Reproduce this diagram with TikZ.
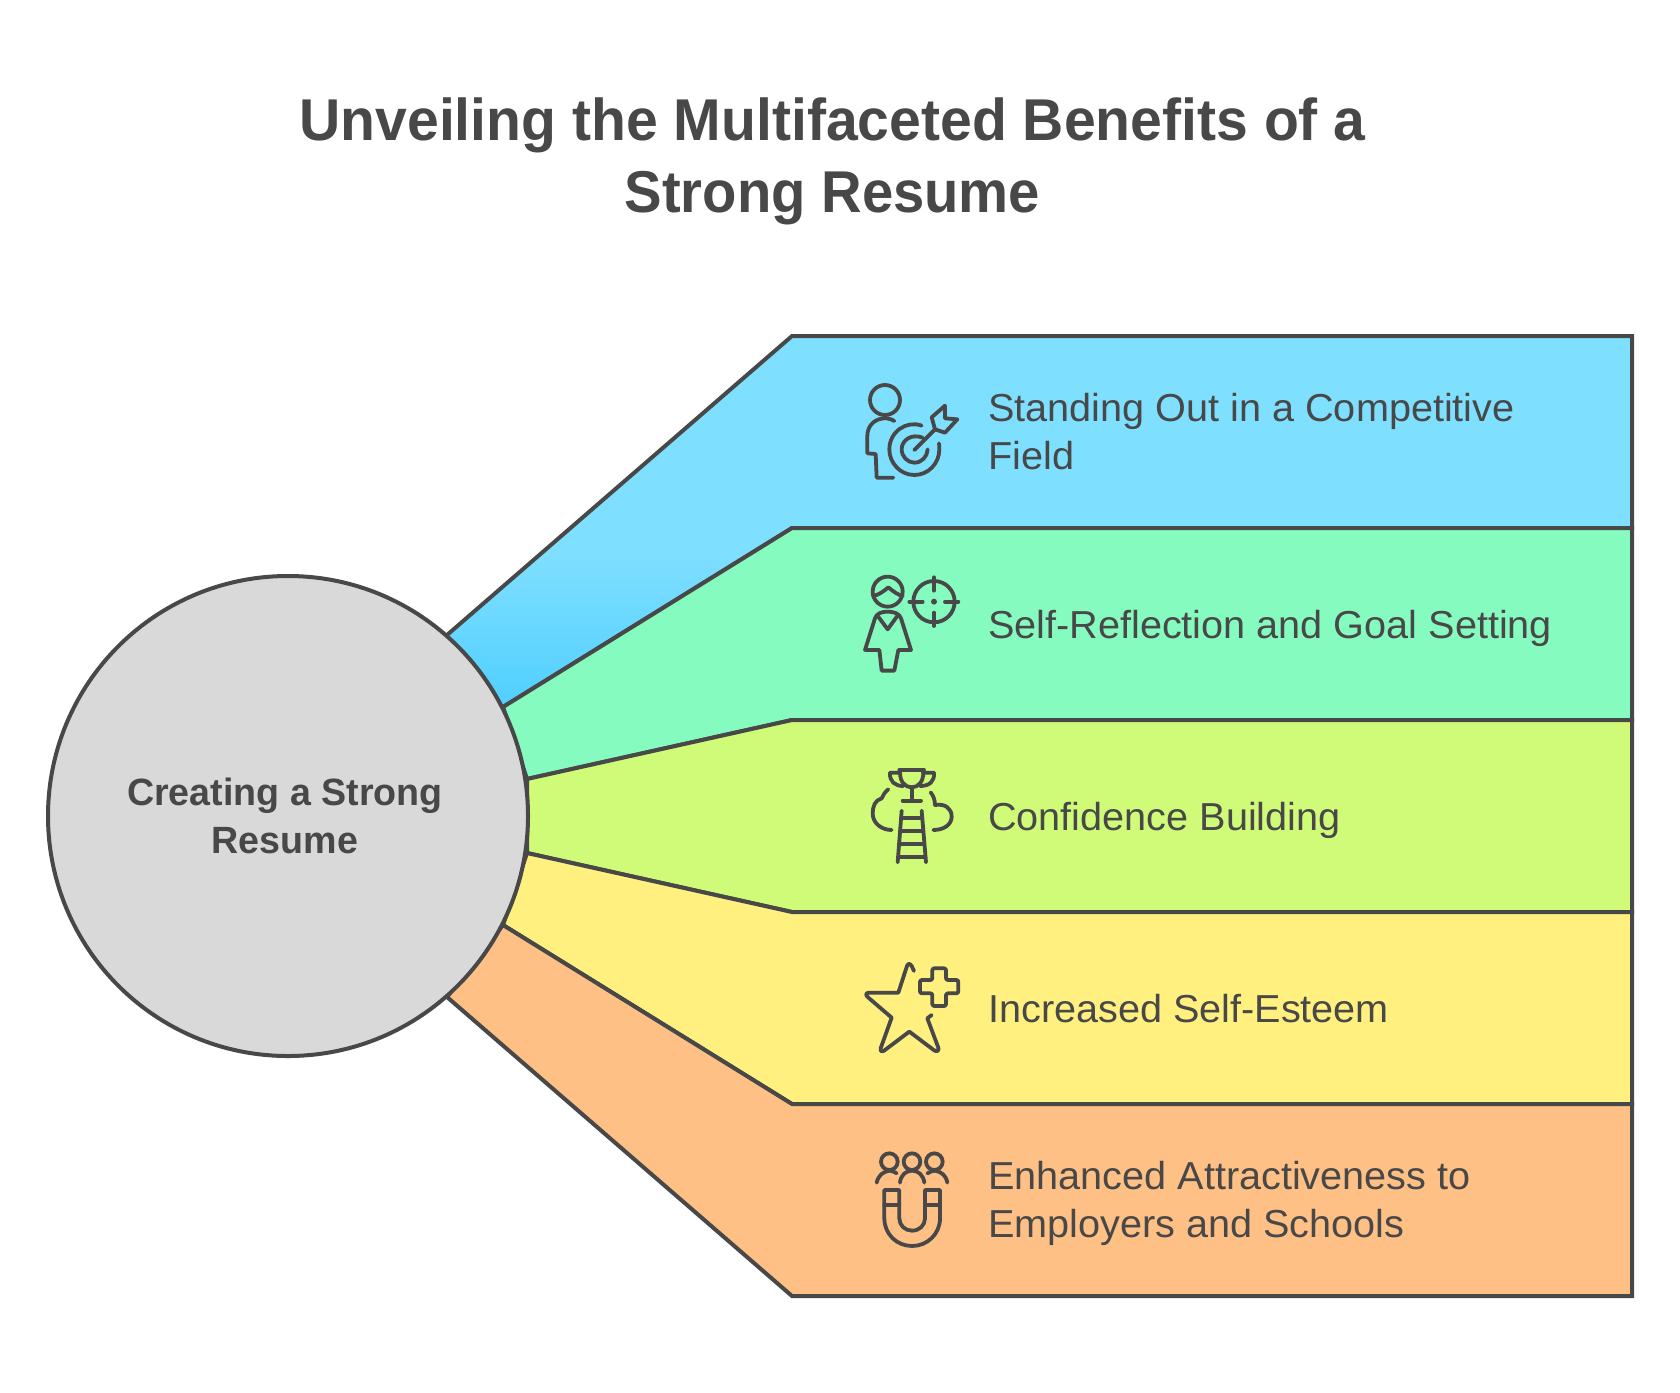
\documentclass[tikz,border=0pt]{standalone}
\usepackage{fontspec}
\setmainfont{Liberation Sans}
\newfontfamily\labfont[FakeStretch=1.016]{Liberation Sans}
\newfontfamily\hubfont[FakeStretch=0.99]{Liberation Sans}
\newfontfamily\titlefontA[FakeStretch=0.968]{Liberation Sans}
\newfontfamily\titlefontB[FakeStretch=0.953]{Liberation Sans}
\newcommand{\ls}{\rule[-10pt]{0pt}{38pt}}
\newcommand{\ts}{\rule[-15pt]{0pt}{57pt}}
\definecolor{ink}{HTML}{484848}
\definecolor{cblue}{HTML}{7FDFFF}
\definecolor{cbluedk}{HTML}{50CFFF}
\definecolor{cgreen}{HTML}{85FBC0}
\definecolor{clime}{HTML}{D0FB78}
\definecolor{cyellow}{HTML}{FFF080}
\definecolor{corange}{HTML}{FFC085}
\definecolor{cgray}{HTML}{D9D9D9}
\tikzset{
  band/.style={draw=ink,line width=4pt,line join=miter},
  label/.style={text=ink,anchor=west,font=\labfont\fontsize{39}{48}\selectfont,align=left,inner sep=0pt},
  icon/.style={draw=ink,line width=3.8pt,line cap=round,line join=round,fill=none},
}
\begin{document}
\begin{tikzpicture}[x=1pt,y=-1pt]
\useasboundingbox (0,0) rectangle (1680,1392);
\fill[white] (0,0) rectangle (1680,1392);
\node[text=ink,font=\bfseries\fontsize{59}{72}\selectfont,align=center,inner sep=0pt] (title) at (832.5,163) {\titlefontA\ts Unveiling the Multifaceted Benefits of a\\\titlefontB\ts Strong Resume};
% bands
\fill[cblue] (447,635) -- (792,336) -- (1632,336) -- (1632,528) -- (792,528) -- (503,707) -- cycle;
\begin{scope}
\clip (447,635) -- (792,336) -- (1632,336) -- (1632,528) -- (792,528) -- (503,707) -- cycle;
\shade[top color=cblue,bottom color=cbluedk] (420,553) rectangle (800,707);
\end{scope}
\draw[band] (447,635) -- (792,336) -- (1632,336) -- (1632,528) -- (792,528) -- (503,707);
\filldraw[band,fill=cgreen] (503,707) -- (792,528) -- (1632,528) -- (1632,720) -- (792,720) -- (527,779) -- cycle;
\filldraw[band,fill=clime] (527,779) -- (792,720) -- (1632,720) -- (1632,912) -- (792,912) -- (527,853) -- cycle;
\filldraw[band,fill=cyellow] (527,853) -- (792,912) -- (1632,912) -- (1632,1104) -- (792,1104) -- (503,925) -- cycle;
\filldraw[band,fill=corange] (503,925) -- (792,1104) -- (1632,1104) -- (1632,1296) -- (792,1296) -- (447,997) -- cycle;
\node[circle,draw=ink,line width=4pt,fill=cgray,minimum size=480pt,inner sep=0pt] (hub) at (288,816) {};
\node[text=ink,font=\hubfont\bfseries\fontsize{38}{48}\selectfont,align=center,inner sep=0pt] (hubtext) at (285,816) {Creating a Strong\\Resume};
% labels
\node[label] (l1) at (988,436) {\ls Standing Out in a Competitive\\\ls Field};
\node[label] (l2) at (988,629) {\ls Self-Reflection and Goal Setting};
\node[label] (l3) at (988,821) {\ls Confidence Building};
\node[label] (l4) at (988,1013) {\ls Increased Self-Esteem};
\node[label] (l5) at (988,1204) {\ls Enhanced Attractiveness to\\\ls Employers and Schools};
% icon 1
\begin{scope}[shift={(840,360)},x=0.3333pt,y=-0.3333pt,every path/.append style={icon}]
\draw (135,120) circle[radius=45];
\draw (163,183) .. controls (150,175) and (135,173) .. (125,176) .. controls (100,180) and (82,200) .. (82,228) -- (82,280) -- (107,282) -- (110,353) -- (160,353);
\draw (245,197) .. controls (200,180) and (148,215) .. (148,268) .. controls (148,310) and (182,345) .. (223,345) .. controls (265,345) and (298,310) .. (298,268) .. controls (298,262) and (298,256) .. (297,250);
\draw (248,233) .. controls (215,220) and (185,240) .. (185,268) .. controls (185,290) and (203,308) .. (223,308) .. controls (245,308) and (262,290) .. (263,268);
\draw (223,270) -- (285,208);
\draw (285,208) -- (275,172) -- (315,137) -- (315,175) -- (352,178) -- (315,218) -- cycle;
% icon 2
\draw (143,695) circle[radius=45];
\draw (100,708) .. controls (115,705) and (130,695) .. (145,682) .. controls (160,695) and (175,705) .. (188,708);
\draw (143,755) .. controls (125,755) and (110,760) .. (105,775) -- (75,870) -- (118,870) -- (125,932) -- (163,932) -- (175,870) -- (213,870) -- (183,775) .. controls (178,760) and (160,755) .. (143,755) -- cycle;
\draw (113,768) -- (143,808) -- (172,768);
\draw (282,725) circle[radius=62];
\draw (282,652) -- (282,692);
\draw (282,758) -- (282,798);
\draw (208,725) -- (248,725);
\draw (315,725) -- (355,725);
\fill[ink,draw=none] (282,725) circle[radius=9];
\end{scope}
\begin{scope}[shift={(840,750)},x=0.3333pt,y=-0.3333pt,every path/.append style={icon}]
% icon 3
\draw (150,68) -- (180,68) .. controls (180,95) and (195,112) .. (215,112) .. controls (235,112) and (250,95) .. (250,68) -- (282,68);
\draw (178,60) -- (252,60);
\draw (180,60) -- (180,68);
\draw (250,60) -- (250,68);
\draw (150,68) .. controls (148,95) and (165,108) .. (190,108);
\draw (282,68) .. controls (284,95) and (268,108) .. (240,108);
\draw (215,112) -- (215,152);
\draw (188,152) -- (243,152);
\draw (145,118) .. controls (135,125) and (130,135) .. (125,145) .. controls (105,150) and (98,170) .. (98,190) .. controls (98,220) and (125,240) .. (155,240);
\draw (272,127) .. controls (280,137) and (285,150) .. (285,165) .. controls (315,160) and (335,175) .. (335,200) .. controls (335,225) and (310,240) .. (280,240);
\draw (185,182) -- (173,337);
\draw (245,182) -- (258,337);
\draw (183,203) -- (247,203);
\draw (180,243) -- (250,243);
\draw (177,283) -- (253,283);
\draw (174,322) -- (256,322);
% icon 4
\draw (222,663) -- (215,648) .. controls (210,640) and (204,640) .. (201,648) -- (175,728) -- (88,728) .. controls (78,728) and (75,735) .. (84,742) -- (155,803) -- (122,895) .. controls (120,905) and (127,907) .. (135,900) -- (208,845) -- (281,900) .. controls (290,907) and (298,903) .. (295,893) -- (262,805) -- (275,795);
\draw[rounded corners=2pt] (240,690) -- (277,690) -- (277,655) -- (318,655) -- (318,690) -- (355,690) -- (355,730) -- (318,730) -- (318,768) -- (277,768) -- (277,730) -- (240,730) -- cycle;
\end{scope}
\begin{scope}[shift={(840,1130)},x=0.3333pt,y=-0.3333pt,every path/.append style={icon}]
% icon 5
\draw (148,95) circle[radius=25];
\draw (216,95) circle[radius=25];
\draw (283,95) circle[radius=25];
\draw (110,158) .. controls (115,135) and (130,125) .. (148,122) .. controls (155,122) and (163,125) .. (170,130);
\draw (180,158) .. controls (182,135) and (198,122) .. (216,122) .. controls (235,122) and (250,135) .. (253,158);
\draw (262,130) .. controls (270,125) and (278,122) .. (285,122) .. controls (303,125) and (318,135) .. (322,158);
\draw (133,180) -- (133,265) .. controls (133,312) and (170,348) .. (216,348) .. controls (262,348) and (300,312) .. (300,265) -- (300,180) -- (255,180) -- (255,265) .. controls (255,286) and (238,302) .. (216,302) .. controls (195,302) and (178,286) .. (178,265) -- (178,180) -- cycle;
\draw (133,225) -- (178,225);
\draw (255,225) -- (300,225);
\end{scope}
\end{tikzpicture}
\end{document}
